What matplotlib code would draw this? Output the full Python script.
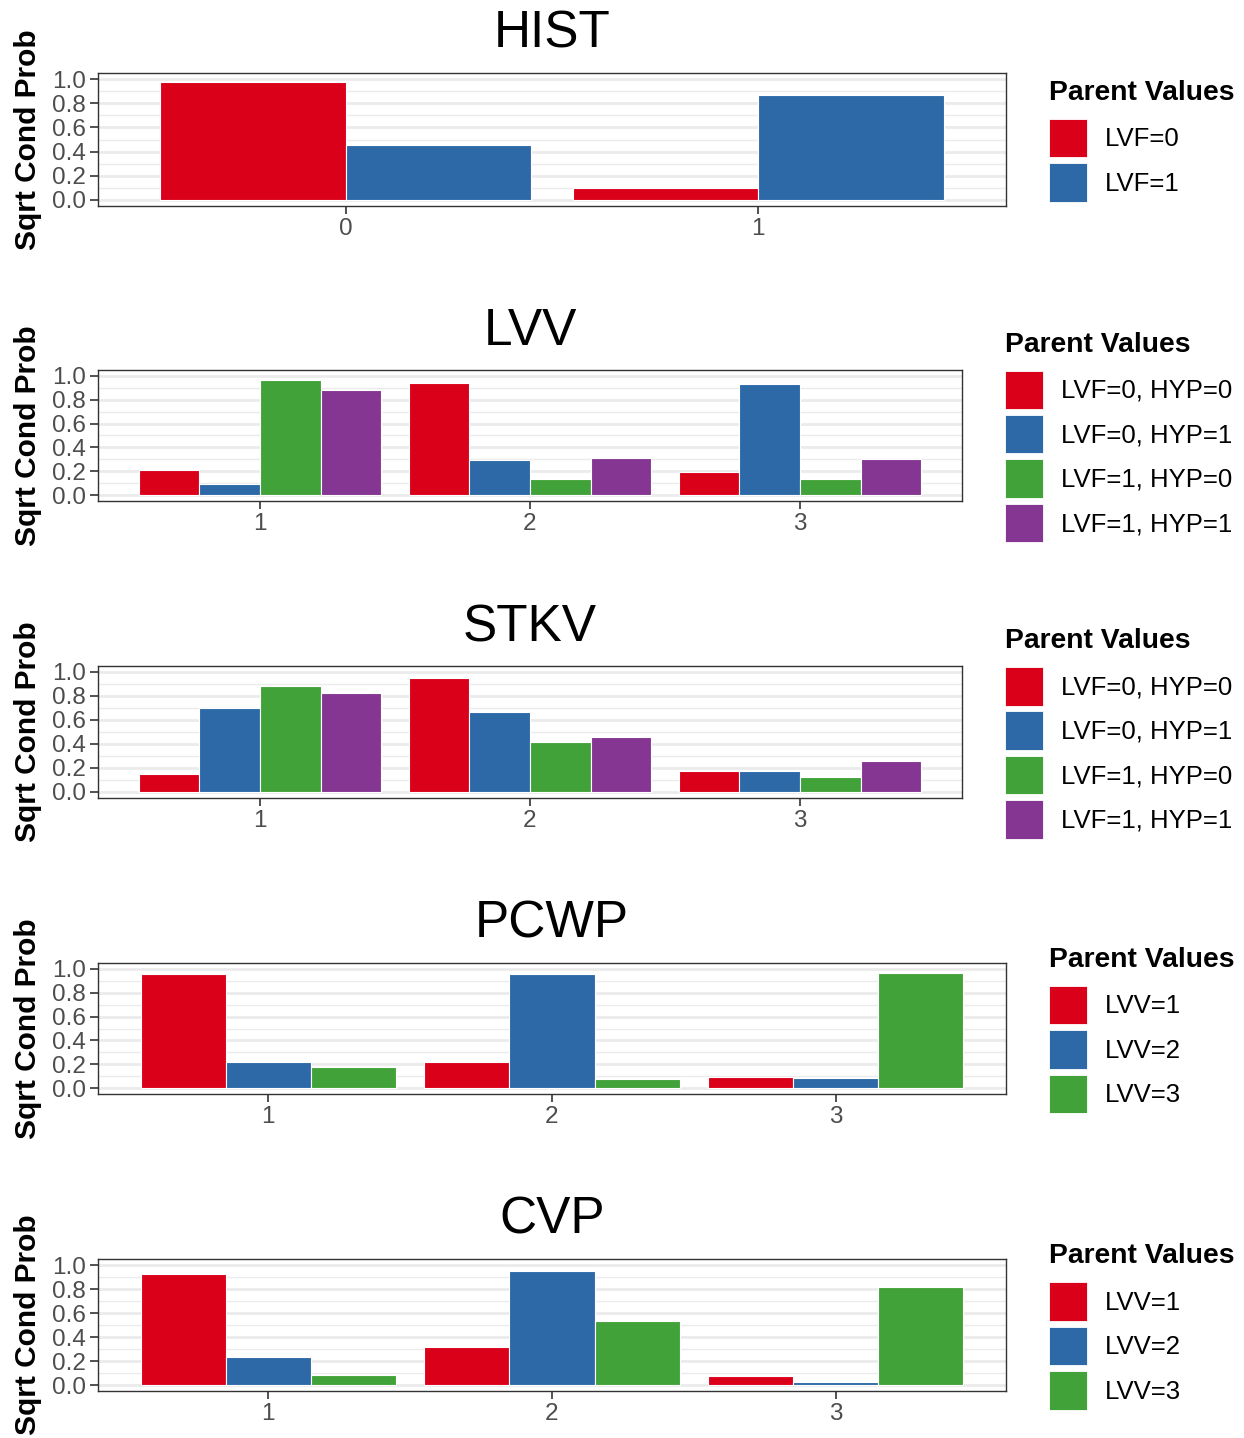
import matplotlib
matplotlib.use("Agg")
import matplotlib.pyplot as plt
from matplotlib.patches import Patch
import numpy as np

plt.rcParams['font.family'] = ['Liberation Sans', 'DejaVu Sans']

# ---------------- data ----------------
hist_states = ['0', '1']
hist_groups = ['LVF=0', 'LVF=1']
hist_vals = [[0.978, 0.10],
             [0.453, 0.866]]

lvv_states = ['1', '2', '3']
lvv_groups = ['LVF=0, HYP=0', 'LVF=0, HYP=1', 'LVF=1, HYP=0', 'LVF=1, HYP=1']
lvv_vals = [[0.21, 0.945, 0.193],
            [0.094, 0.293, 0.93],
            [0.967, 0.138, 0.132],
            [0.882, 0.314, 0.306]]

stkv_states = ['1', '2', '3']
stkv_groups = ['LVF=0, HYP=0', 'LVF=0, HYP=1', 'LVF=1, HYP=0', 'LVF=1, HYP=1']
stkv_vals = [[0.15, 0.951, 0.175],
             [0.703, 0.664, 0.175],
             [0.883, 0.418, 0.125],
             [0.828, 0.462, 0.257]]

pcwp_states = ['1', '2', '3']
pcwp_groups = ['LVV=1', 'LVV=2', 'LVV=3']
pcwp_vals = [[0.955, 0.22, 0.096],
             [0.215, 0.959, 0.083],
             [0.179, 0.077, 0.967]]

cvp_states = ['1', '2', '3']
cvp_groups = ['LVV=1', 'LVV=2', 'LVV=3']
cvp_vals = [[0.923, 0.318, 0.077],
            [0.23, 0.953, 0.025],
            [0.08, 0.532, 0.819]]

titles = ['HIST', 'LVV', 'STKV', 'PCWP', 'CVP']
colors = ['#DA001A', '#2D69A7', '#42A23A', '#843692']

panels = [(hist_states, hist_groups, hist_vals),
          (lvv_states, lvv_groups, lvv_vals),
          (stkv_states, stkv_groups, stkv_vals),
          (pcwp_states, pcwp_groups, pcwp_vals),
          (cvp_states, cvp_groups, cvp_vals)]

# layout in pixels: (left, right, top, bottom, legend_x)
W, H = 1244, 1438
boxes = [(98, 1006, 73, 206, 1049),
         (98, 962, 370, 501, 1005),
         (98, 962, 666, 798, 1005),
         (98, 1006, 963, 1094, 1049),
         (98, 1006, 1259, 1391, 1049)]

fig = plt.figure(figsize=(W / 100, H / 100), dpi=100)

for (states, groups, vals), title, (l, r, t, b, lx) in zip(panels, titles, boxes):
    ax = fig.add_axes([l / W, 1 - b / H, (r - l) / W, (b - t) / H])
    n = len(states)
    k = len(groups)
    bw = 0.9 / k
    x = np.arange(1, n + 1)
    for gi in range(k):
        offs = -0.45 + bw * (gi + 0.5)
        ax.bar(x + offs, vals[gi], width=bw, color=colors[gi],
               edgecolor='white', linewidth=0.8, zorder=3)
    ax.set_xlim(0.4, n + 0.6)
    ax.set_ylim(-0.05, 1.05)
    ax.set_xticks(x)
    ax.set_xticklabels(states)
    ax.set_yticks(np.arange(0, 1.01, 0.2))
    ax.set_yticklabels(['%.1f' % v for v in np.arange(0, 1.01, 0.2)])
    ax.set_yticks(np.arange(0.1, 1.0, 0.2), minor=True)
    ax.grid(axis='y', which='major', color='#EBEBEB', linewidth=2.0, zorder=0)
    ax.grid(axis='y', which='minor', color='#EBEBEB', linewidth=1.0, zorder=0)
    ax.grid(axis='x', visible=False)
    ax.set_axisbelow(True)
    for s in ax.spines.values():
        s.set_color('#333333')
        s.set_linewidth(1.0)
    ax.tick_params(axis='both', which='major', color='#333333', length=5.5,
                   width=1.2, labelsize=17.5, labelcolor='#4D4D4D')
    ax.tick_params(axis='y', which='major', pad=3)
    ax.tick_params(axis='x', which='major', pad=3)
    ax.tick_params(axis='y', which='minor', length=0)
    ax.set_title(title, fontsize=37, pad=18)
    ax.set_ylabel('Sqrt Cond Prob', fontsize=21.5, fontweight='bold', labelpad=7)

    handles = [Patch(facecolor=colors[gi], edgecolor='white', linewidth=0.6)
               for gi in range(k)]
    yc = 1 - ((t + b) / 2 + 1.5) / H
    leg = ax.legend(handles, groups, loc='center left',
                    bbox_to_anchor=(lx / W, yc), bbox_transform=fig.transFigure,
                    frameon=False, fontsize=18.5, title='Parent Values',
                    title_fontproperties={'weight': 'bold', 'size': 20.3},
                    alignment='left', borderpad=0, borderaxespad=0,
                    handlelength=1.48, handleheight=1.93, labelspacing=0.23,
                    handletextpad=0.7)
    # extra gap between legend title and keys
    leg._legend_box.sep = 0.23 * 18.5 + 5

fig.savefig('out.png', dpi=100, facecolor='white')
